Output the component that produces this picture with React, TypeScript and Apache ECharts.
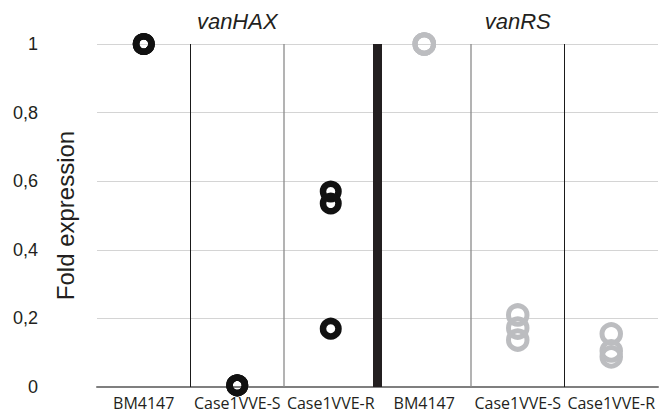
import React, { useEffect, useRef } from "react";
import * as echarts from "echarts";

const categories = ["BM4147", "Case1VVE-S", "Case1VVE-R", "BM4147", "Case1VVE-S", "Case1VVE-R"];
const groupTitles = ["vanHAX", "vanRS"];
// [category index, fold expression]
const vanHAX: [number, number][] = [
  [0, 1], [0, 1], [0, 1],
  [1, 0.005], [1, 0.005], [1, 0.005],
  [2, 0.57], [2, 0.535], [2, 0.17],
];
const vanRS: [number, number][] = [
  [3, 1], [3, 1], [3, 1],
  [4, 0.21], [4, 0.172], [4, 0.137],
  [5, 0.155], [5, 0.105], [5, 0.088],
];
// separators between categories: [boundary index, style key]
const separators: [number, string][] = [
  [1, "thin"], [2, "gray"], [3, "thick"], [4, "gray"], [5, "thin"],
];

const sepStyle: Record<string, { color: string; width: number }> = {
  thin: { color: "#1a1a1a", width: 1 },
  gray: { color: "#8a8a8a", width: 1.3 },
  thick: { color: "#231f20", width: 9 },
};

export default function App() {
  const ref = useRef<HTMLDivElement>(null);
  useEffect(() => {
    const chart = echarts.init(ref.current!, null, { renderer: "svg" });
    const gridLeft = 97;
    const gridRight = 4;
    const plotW = 662 - gridLeft - gridRight;
    chart.setOption({
      animation: false,
      textStyle: { fontFamily: "Liberation Sans" },
      graphic: groupTitles.map((t, i) => ({
        type: "text",
        x: gridLeft + plotW * (i === 0 ? 0.25 : 0.75),
        y: 21,
        style: {
          text: t,
          textAlign: "center",
          textVerticalAlign: "middle",
          fontFamily: "Liberation Sans",
          fontStyle: "italic",
          fontSize: 22,
          fill: "#231f20",
        },
      })),
      grid: { left: gridLeft, right: gridRight, top: 44, bottom: 27, outerBoundsMode: "none" },
      xAxis: [
        {
          type: "category",
          data: categories,
          boundaryGap: true,
          axisLine: { show: true, lineStyle: { color: "#7f7f7f", width: 2 } },
          axisTick: { show: false },
          axisLabel: {
            interval: 0,
            margin: 8,
            fontFamily: "Open Sans",
            fontSize: 16,
            color: "#231f20",
          },
          splitLine: { show: false },
        },
        {
          type: "value",
          min: 0,
          max: 6,
          show: false,
        },
      ],
      yAxis: {
        type: "value",
        min: 0,
        max: 1,
        interval: 0.2,
        axisLine: { show: false },
        axisTick: { show: false },
        axisLabel: {
          margin: 59,
          align: "right",
          fontFamily: "Liberation Sans",
          fontSize: 18,
          padding: [6, 0, 0, 0],
          color: "#231f20",
          formatter: (v: number) => String(Math.round(v * 10) / 10).replace(".", ","),
        },
        splitLine: { lineStyle: { color: "#d4d4d4", width: 1 } },
        name: "Fold expression",
        nameLocation: "middle",
        nameGap: 20,
        nameMoveOverlap: false,
        nameTextStyle: { fontSize: 24, color: "#231f20", fontFamily: "Liberation Sans" },
      },
      series: [
        ...separators.map(([x, k]) => ({
          type: "line",
          xAxisIndex: 1,
          data: [[x, 0], [x, 1]],
          symbol: "none",
          silent: true,
          lineStyle: { color: sepStyle[k].color, width: sepStyle[k].width },
          z: 1,
        })),
        {
          type: "scatter",
          xAxisIndex: 0,
          data: vanHAX,
          symbol: "circle",
          symbolSize: 15.5,
          itemStyle: { color: "rgba(0,0,0,0)", borderColor: "#111111", borderWidth: 6.5, opacity: 1 },
          z: 3,
        },
        {
          type: "scatter",
          xAxisIndex: 0,
          data: vanRS,
          symbol: "circle",
          symbolSize: 18.5,
          itemStyle: { color: "rgba(0,0,0,0)", borderColor: "#bcbdc0", borderWidth: 5, opacity: 1 },
          z: 3,
        },
      ],
    });
    return () => chart.dispose();
  }, []);
  return <div ref={ref} style={{ width: 662, height: 414, position: "absolute", left: 0, top: 0 }} />;
}
